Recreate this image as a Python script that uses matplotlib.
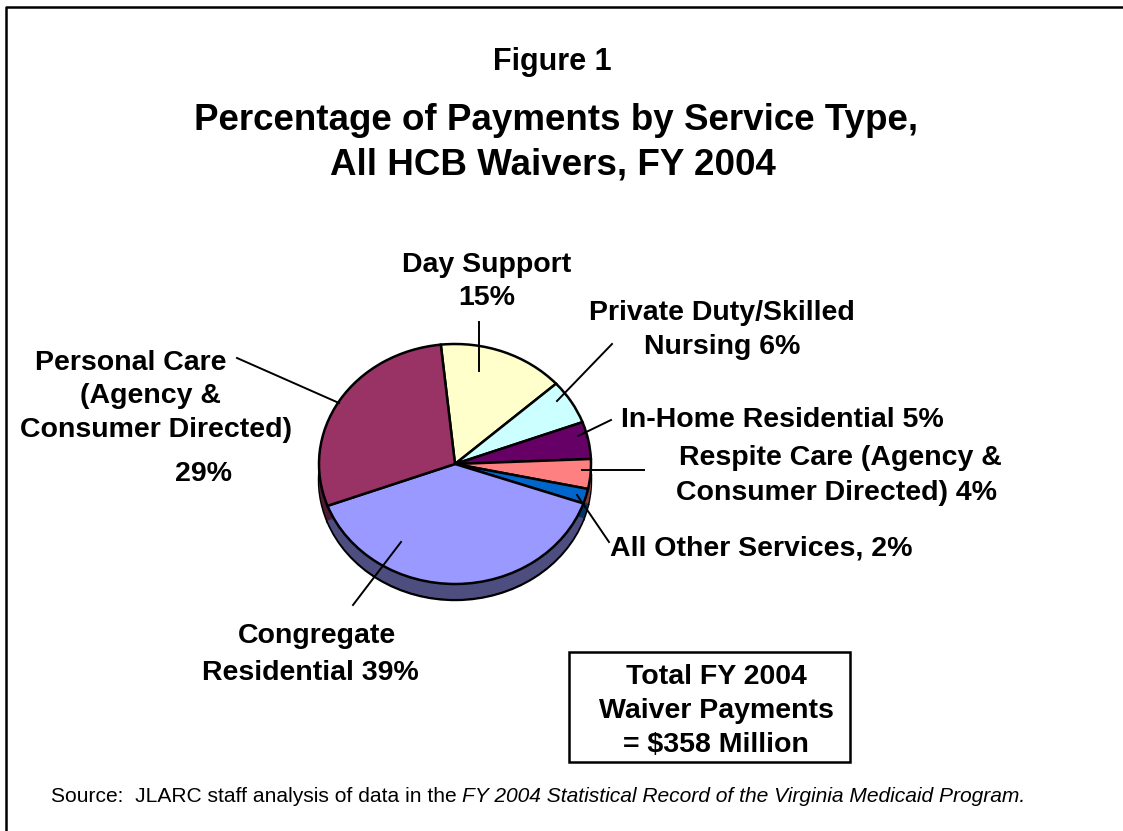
import matplotlib
matplotlib.use('Agg')
import matplotlib.pyplot as plt

plt.rcParams['font.family'] = ['Liberation Sans', 'DejaVu Sans']

services = ['Day Support', 'Private Duty/Skilled Nursing', 'In-Home Residential',
            'Respite Care', 'All Other Services', 'Congregate Residential', 'Personal Care']
shares = [15, 6, 5, 4, 2, 39, 29]
top_colors = ['#FFFFCC', '#CCFFFF', '#660066', '#FF8080', '#0066CC', '#9999FF', '#993366']
side_colors = ['#808066', '#668080', '#330033', '#804040', '#003366', '#4D4D80', '#4D1A33']

W, H = 1123, 831
fig = plt.figure(figsize=(W / 100, H / 100), dpi=100, facecolor='white')

# overlay in pixel units for the frame, labels and leader lines
page = fig.add_axes([0, 0, 1, 1], zorder=3)
page.set_xlim(0, W)
page.set_ylim(H, 0)
page.axis('off')
page.patch.set_alpha(0)

# pie axes, squashed a little vertically for the tilted look
cx, cy, rx, ry = 455, 464, 136, 120
pie_ax = fig.add_axes([(cx - rx) / W, 1 - (cy + ry) / H, 2 * rx / W, 2 * ry / H], zorder=1)
depth = 0.133
edge = {'edgecolor': 'black', 'linewidth': 1.8}
pie_args = dict(startangle=96, counterclock=False, radius=1)
pie_ax.pie(shares, colors=side_colors, center=(0, -depth), wedgeprops=edge, **pie_args)
for k in range(1, 14):
    pie_ax.pie(shares, colors=side_colors, center=(0, -depth * k / 14),
               wedgeprops={'linewidth': 0}, **pie_args)
pie_ax.pie(shares, colors=top_colors, center=(0, 0), wedgeprops=edge, **pie_args)
pie_ax.set_aspect('auto')
pie_ax.set_xlim(-1, 1)
pie_ax.set_ylim(-1, 1)
pie_ax.axis('off')

# frame, open at the right side and bottom
page.plot([6, 6, W], [H, 7, 7], color='black', lw=1.8, clip_on=False)


def label(x, y, s, size=20.5, **kw):
    page.text(x, y, s, fontsize=size, fontweight='bold', ha='center', va='center',
              color='black', **kw)


label(552.5, 62, 'Figure 1', size=22)
label(556, 120, 'Percentage of Payments by Service Type,', size=26.5)
label(553, 165, 'All HCB Waivers, FY 2004', size=26.5)

label(487, 265, 'Day Support')
label(487, 298, '15%')
label(722, 313, 'Private Duty/Skilled')
label(722, 347, 'Nursing 6%')
label(782, 420, 'In-Home Residential 5%')
label(840, 458, 'Respite Care (Agency &')
label(836, 493, 'Consumer Directed) 4%')
label(761, 548, 'All Other Services, 2%')
label(131, 363, 'Personal Care')
label(150, 396, '(Agency &')
label(156, 430, 'Consumer Directed)')
label(204, 474, '29%')
label(317, 636, 'Congregate')
label(310, 673, 'Residential 39%')

# leader lines
leaders = [((479, 322), (479, 371)), ((612, 344), (557, 401)), ((611, 420), (578, 436)),
           ((644, 470), (582, 470)), ((609, 542), (577, 495)), ((353, 605), (401, 542)),
           ((237, 358), (339, 403))]
for (x0, y0), (x1, y1) in leaders:
    page.plot([x0, x1], [y0, y1], color='black', lw=1.4)

# total box
page.add_patch(plt.Rectangle((569, 652), 281, 110, facecolor='white', edgecolor='black', lw=1.8))
label(716, 677, 'Total FY 2004')
label(716, 711, 'Waiver Payments')
label(716, 745, '= $358 Million')

# source note with the italic title part
src = page.text(51, 796, 'Source:  JLARC staff analysis of data in the ', fontsize=15.15,
                ha='left', va='center')
fig.canvas.draw()
end = src.get_window_extent().transformed(page.transData.inverted()).x1
page.text(end, 796, 'FY 2004 Statistical Record of the Virginia Medicaid Program.',
          fontsize=15.15, style='italic', ha='left', va='center')

fig.savefig('out.png', dpi=100, facecolor='white')
